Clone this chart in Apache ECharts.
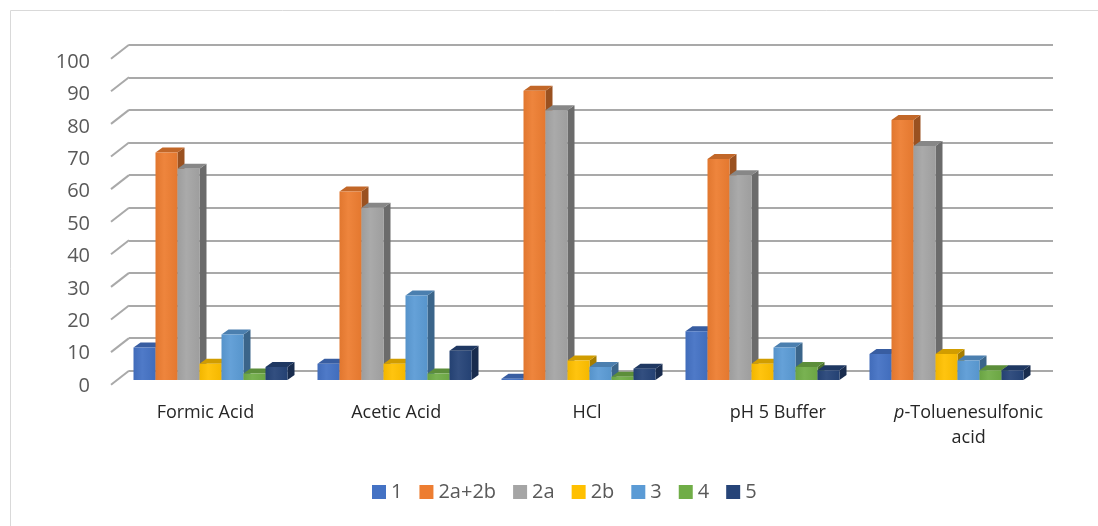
<!DOCTYPE html>
<html>
<head>
<meta charset="utf-8">
<script src="https://cdn.jsdelivr.net/npm/echarts@6/dist/echarts.min.js"></script>
<style>
  html, body { margin: 0; padding: 0; background: #fff; }
  #chart { width: 1098px; height: 526px; }
</style>
</head>
<body>
<div id="chart"></div>
<script>
// data
const categories = ['Formic Acid', 'Acetic Acid', 'HCl', 'pH 5 Buffer', 'p-Toluenesulfonic acid'];
const seriesNames = ['1', '2a+2b', '2a', '2b', '3', '4', '5'];
const s1 = [10, 5, 0.4, 15, 8];
const s2a2b = [70, 58, 89, 68, 80];
const s2a = [65, 53, 83, 63, 72];
const s2b = [5, 5, 6, 5, 8];
const s3 = [14, 26, 4, 10, 6];
const s4 = [2, 2, 1, 4, 3];
const s5 = [4, 9, 3.5, 3, 3];
const yTicks = [0, 10, 20, 30, 40, 50, 60, 70, 80, 90, 100];

const seriesValues = [s1, s2a2b, s2a, s2b, s3, s4, s5];
const seriesColors = ['#4472C4', '#ED7D31', '#A5A5A5', '#FFC000', '#5B9BD5', '#70AD47', '#264478'];
const gridColor = '#A9A9A9';
const font = '"Open Sans", "Noto Sans", sans-serif';

function shade(hex, f) {
    let r = parseInt(hex.slice(1, 3), 16), g = parseInt(hex.slice(3, 5), 16), b = parseInt(hex.slice(5, 7), 16);
    const t = f < 0 ? 0 : 255, p = Math.abs(f);
    r = Math.round((t - r) * p + r); g = Math.round((t - g) * p + g); b = Math.round((t - b) * p + b);
    return 'rgb(' + r + ',' + g + ',' + b + ')';
}

// 3D-looking column: front face + top + right side
function barRenderer(idx) {
    return function (params, api) {
        const c = api.value(0), v = api.value(1);
        const base = api.coord([c, 0]);
        const top = api.coord([c, v]);
        const bw = api.size([1, 0])[0] * 0.837 / 7;
        const dx = 7, dy = -5;
        const x0 = base[0] - bw * 3.5 + idx * bw;
        const x1 = x0 + bw;
        const yb = base[1], yt = top[1];
        const col = seriesColors[idx];
        return {
            type: 'group',
            children: [
                {
                    type: 'polygon',
                    shape: {points: [[x1, yb], [x1 + dx, yb + dy], [x1 + dx, yt + dy], [x1, yt]]},
                    style: {fill: shade(col, -0.35)}
                },
                {
                    type: 'polygon',
                    shape: {points: [[x0, yt], [x0 + dx, yt + dy], [x1 + dx, yt + dy], [x1, yt]]},
                    style: {fill: shade(col, -0.18)}
                },
                {
                    type: 'rect',
                    shape: {x: x0, y: yt, width: bw, height: yb - yt},
                    style: {
                        fill: new echarts.graphic.LinearGradient(0, 0, 1, 0, [
                            {offset: 0, color: shade(col, -0.05)},
                            {offset: 0.4, color: shade(col, 0.06)},
                            {offset: 1, color: shade(col, -0.04)}
                        ])
                    }
                }
            ]
        };
    };
}

// short slanted lines joining the front edge to the back wall
function tickRenderer(params, api) {
    const p = api.coord([0, api.value(1)]);
    const x = params.coordSys.x;
    return {
        type: 'line',
        shape: {x1: x, y1: p[1], x2: x - 18, y2: p[1] + 14},
        style: {stroke: gridColor, lineWidth: 2}
    };
}

let barSeries = seriesNames.map((name, i) => {
    return {
        name: name,
        type: 'custom',
        xAxisIndex: 1,
        yAxisIndex: 1,
        renderItem: barRenderer(i),
        itemStyle: {color: seriesColors[i]},
        data: seriesValues[i].map((v, c) => [c, v]),
        z: 3 + i
    };
});

let option = {
    animation: false,
    color: seriesColors,
    graphic: [{
        type: 'rect',
        left: 8, top: 8,
        shape: {width: 1200, height: 600},
        style: {fill: 'none', stroke: '#D9D9D9', lineWidth: 1}
    }],
    grid: [
        {left: 129, top: 44.7, width: 924, height: 326},
        {left: 118.5, top: 55, width: 920, height: 325},
        {left: 110, top: 62, width: 954, height: 324}
    ],
    legend: {
        data: seriesNames,
        left: 367,
        bottom: 19,
        icon: 'rect',
        itemWidth: 14,
        itemHeight: 14,
        itemGap: 17,
        textStyle: {fontSize: 20, color: '#595959', fontFamily: font}
    },
    xAxis: [
        {type: 'category', gridIndex: 0, data: categories, show: false},
        {type: 'category', gridIndex: 1, data: categories, show: false},
        {
            type: 'category', gridIndex: 2, data: categories,
            axisLine: {show: false}, axisTick: {show: false},
            axisLabel: {
                margin: 14,
                fontSize: 18,
                color: '#262626',
                fontFamily: font,
                lineHeight: 25,
                interval: 0,
                formatter: function (val) {
                    if (val.indexOf('p-') === 0) {
                        return '{i|p}-Toluenesulfonic\nacid';
                    }
                    return val;
                },
                rich: {i: {fontStyle: 'italic', fontSize: 18, color: '#262626', fontFamily: font, lineHeight: 25}}
            }
        }
    ],
    yAxis: [
        {
            type: 'value', gridIndex: 0, min: 0, max: 100, interval: 10,
            axisLine: {show: false}, axisTick: {show: false}, axisLabel: {show: false},
            splitLine: {show: true, lineStyle: {color: gridColor, width: 2}}
        },
        {type: 'value', gridIndex: 1, min: 0, max: 100, interval: 10, show: false},
        {
            type: 'value', gridIndex: 2, min: 0, max: 100, interval: 10,
            axisLine: {show: false}, axisTick: {show: false}, splitLine: {show: false},
            axisLabel: {margin: 20, fontSize: 20, color: '#595959', fontFamily: font}
        }
    ],
    series: [{
        name: 'ticks',
        type: 'custom',
        xAxisIndex: 0,
        yAxisIndex: 0,
        renderItem: tickRenderer,
        data: yTicks.map((v) => [0, v]),
        silent: true,
        z: 1
    }].concat(barSeries)
};

let el = echarts.init(document.getElementById('chart'));
el.setOption(option);
</script>
</body>
</html>
